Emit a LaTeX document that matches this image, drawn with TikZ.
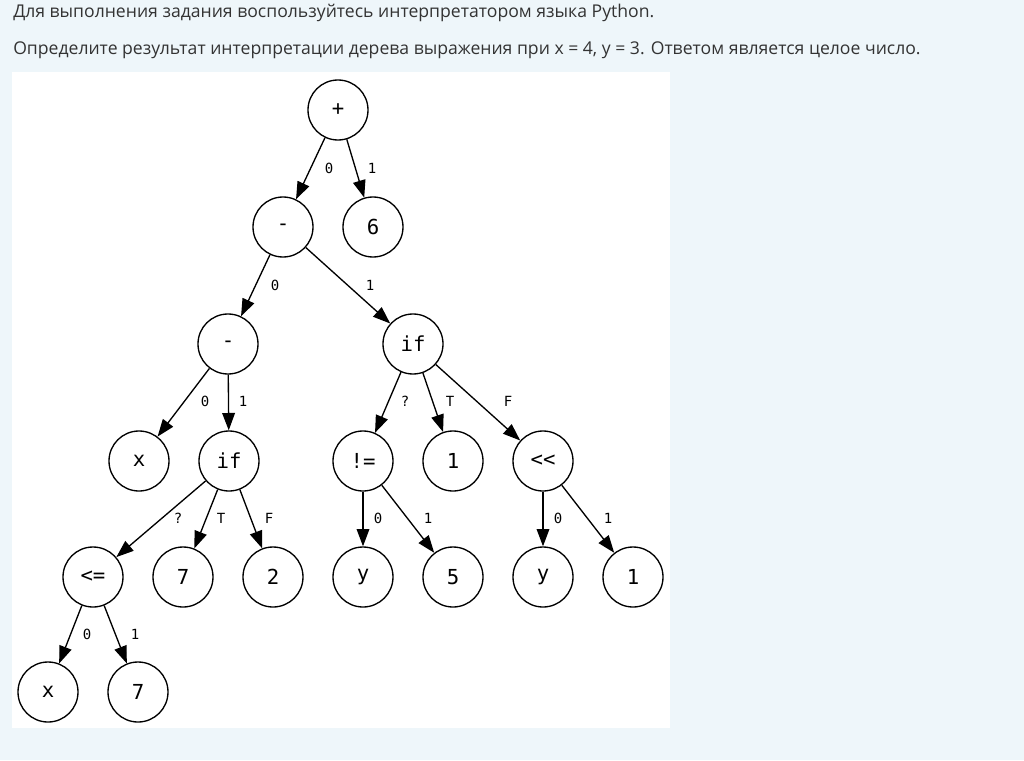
\documentclass[tikz,border=0pt]{standalone}
\usepackage{fontspec}
\setmainfont{Open Sans}
\newfontfamily\monof{DejaVu Sans Mono}
\usetikzlibrary{arrows.meta}
\definecolor{pagebg}{HTML}{EEF6FA}
\definecolor{txt}{HTML}{333333}
\tikzset{
  tn/.style={circle,draw=black,line width=1pt,minimum size=45pt,inner sep=0pt,font=\monof\fontsize{15.5}{16}\selectfont},
  arr/.style={line width=1pt,-{Triangle[length=13pt,width=9.5pt]}},
  el/.style={font=\monof\fontsize{10.5}{11}\selectfont,inner sep=0pt},
  hdr/.style={anchor=west,text=txt,font=\fontsize{13.2}{15}\selectfont,inner sep=0pt}
}
\begin{document}
\begin{tikzpicture}[x=0.75pt,y=-0.75pt]
\fill[pagebg] (0,0) rectangle (1024,760);
\useasboundingbox (0,0) rectangle (1024,760);
\fill[white] (12,72) rectangle (670,728);
\node[hdr] (h1) at (13,13) {Для выполнения задания воспользуйтесь интерпретатором языка Python.};
\node[hdr] (h2) at (13,50) {Определите результат интерпретации дерева выражения при x = 4, y = 3. Ответом является целое число.};
% nodes
\node[tn] (plus) at (338,110) {+};
\node[tn] (m1) at (283,227) {-};
\node[tn] (six) at (373,227) {6};
\node[tn] (m2) at (228,344) {-};
\node[tn] (if1) at (413,344) {if};
\node[tn] (x1) at (139,461) {x};
\node[tn] (if2) at (229,461) {if};
\node[tn] (ne) at (363,461) {!=};
\node[tn] (one1) at (453,461) {1};
\node[tn] (shl) at (543,461) {<{}<};
\node[tn] (le) at (93,577) {<=};
\node[tn] (sev1) at (183,577) {7};
\node[tn] (two) at (273,577) {2};
\node[tn] (y1) at (363,577) {y};
\node[tn] (five) at (453,577) {5};
\node[tn] (y2) at (543,577) {y};
\node[tn] (one2) at (633,577) {1};
\node[tn] (x2) at (48,692) {x};
\node[tn] (sev2) at (138,692) {7};
% edges
\draw[arr] (plus) -- (m1);
\draw[arr] (plus) -- (six);
\draw[arr] (m1) -- (m2);
\draw[arr] (m1) -- (if1);
\draw[arr] (m2) -- (x1);
\draw[arr] (m2) -- (if2);
\draw[arr] (if1) -- (ne);
\draw[arr] (if1) -- (one1);
\draw[arr] (if1) -- (shl);
\draw[arr] (if2) -- (le);
\draw[arr] (if2) -- (sev1);
\draw[arr] (if2) -- (two);
\draw[arr] (ne) -- (y1);
\draw[arr] (ne) -- (five);
\draw[arr] (shl) -- (y2);
\draw[arr] (shl) -- (one2);
\draw[arr] (le) -- (x2);
\draw[arr] (le) -- (sev2);
% edge labels
\node[el] (l1) at (329,168) {0};
\node[el] (l2) at (372,168) {1};
\node[el] (l3) at (275,285) {0};
\node[el] (l4) at (370,285) {1};
\node[el] (l5) at (205,401) {0};
\node[el] (l6) at (243,401) {1};
\node[el] (l7) at (405,401) {?};
\node[el] (l8) at (450,401) {T};
\node[el] (l9) at (508,401) {F};
\node[el] (l10) at (178,518) {?};
\node[el] (l11) at (221,518) {T};
\node[el] (l12) at (269,518) {F};
\node[el] (l13) at (378,518) {0};
\node[el] (l14) at (428,518) {1};
\node[el] (l15) at (558,518) {0};
\node[el] (l16) at (608,518) {1};
\node[el] (l17) at (87,634) {0};
\node[el] (l18) at (135,634) {1};
\end{tikzpicture}
\end{document}
